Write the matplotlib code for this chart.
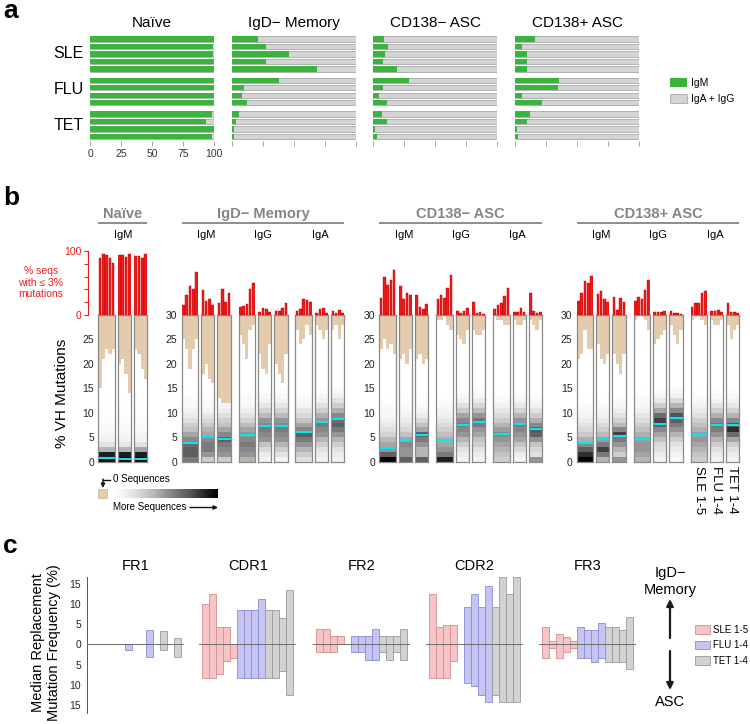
import matplotlib
matplotlib.use('Agg')
import matplotlib.pyplot as plt
import numpy as np
from matplotlib.patches import Patch, Rectangle
from matplotlib.cm import ScalarMappable
from matplotlib.colors import Normalize

plt.rcParams['font.family'] = ['Liberation Sans', 'DejaVu Sans']

# ---------------- data: panel a ----------------
a_subsets = ['Naïve', 'IgD− Memory', 'CD138− ASC', 'CD138+ ASC']
a_cohorts = ['SLE', 'FLU', 'TET']
a_sizes = [5, 4, 4]
igm_naive = [100, 99, 99, 100, 100, 100, 100, 100, 100, 98.4, 93.5, 100, 98.6]
igm_memory = [21, 27.8, 45.8, 27.5, 68.5, 37.7, 9.4, 8.4, 12.1, 5.9, 3.2, 1.9, 1.6]
igm_cd138neg = [8.9, 12.1, 10, 8.3, 19.6, 29, 8.3, 5.1, 11.6, 7.5, 11.6, 1.6, 3.5]
igm_cd138pos = [16.1, 5.6, 9.7, 9.7, 9.7, 35.2, 34.4, 5.6, 22, 12.1, 9.9, 1.6, 2.2]
a_ticks = [0, 25, 50, 75, 100]

# ---------------- data: panel b ----------------
b_panels = ['Naïve', 'IgD− Memory', 'CD138− ASC', 'CD138+ ASC']
b_isotypes = [['IgM'], ['IgM', 'IgG', 'IgA'], ['IgM', 'IgG', 'IgA'], ['IgM', 'IgG', 'IgA']]

# % seqs with <=3% mutations, per subject  [isotype][cohort][subject]
red_naive = [[[89.6, 96, 93.7, 89.6, 82], [93.7, 93.7, 90, 94.8], [92.7, 92.7, 89.6, 95.3]]]
red_memory = [[[15.6, 31, 45, 40.6, 66.7], [39, 22.4, 25.5, 16], [18, 40, 20, 35]],
              [[13, 14.6, 17, 40.6, 50.5], [5.2, 11.5, 10, 4.7], [6.8, 6.8, 10.4, 19]],
              [[6.3, 9.4, 25, 23.4, 20.8], [3.6, 9.4, 10.4, 3.6], [6.8, 3.6, 7.8, 3.6]]]
red_cd138neg = [[[27, 59, 47, 55, 70], [46, 24.5, 34, 31], [32, 13, 8.9, 17]],
                [[25, 31, 26, 42, 62.5], [6.3, 2.6, 6.8, 10.4], [20, 3.6, 4.2, 1.6]],
                [[8.9, 15.6, 18, 30, 41.7], [5.2, 5.2, 10.4, 5.2], [35, 6.8, 2.6, 4.7]]]
red_cd138pos = [[[22.4, 35, 53, 50.5, 61], [33, 37.5, 25, 21], [28.6, 7.8, 26, 21]],
                [[22.4, 27.6, 25, 39, 54.7], [5.2, 5.2, 5.2, 6.3], [6.8, 3.6, 3.6, 1]],
                [[12, 19, 19, 35, 38], [5.7, 6.8, 7.8, 4.2], [18, 4.7, 4.7, 2.6]]]

# mutation level above which there are 0 sequences, per subject
tan_naive = [[[15, 21, 23, 22, 23], [20, 21, 18, 14], [23, 22, 19, 17]]]
tan_memory = [[[25, 23, 19, 23, 25], [18, 20, 17, 16], [13, 12, 12, 12]],
              [[26, 24, 21, 27, 28], [22, 19, 18, 24], [20, 18, 16, 22]],
              [[27, 24, 25, 28, 26], [28, 27, 25, 27], [27, 28, 25, 28]]]
tan_cd138neg = [[[23, 25, 23, 24, 22], [21, 22, 20, 23], [21, 22, 20, 21]],
                [[29, 29, 30, 28, 27], [26, 25, 24, 27], [27, 26, 26, 27]],
                [[30, 29, 29, 28, 28], [29, 28, 28, 29], [29, 28, 27, 29]]]
tan_cd138pos = [[[21, 22, 27, 23, 23], [24, 21, 20, 22], [22, 20, 18, 22]],
                [[29, 30, 30, 29, 27], [24, 25, 26, 27], [28, 26, 24, 27]],
                [[29, 30, 30, 29, 28], [29, 28, 28, 29], [28, 25, 27, 28]]]

# median % VH mutations, per cohort strip
med_naive = [[0.7, 0.5, 0.6]]
med_memory = [[3.9, 5.0, 4.6], [5.5, 7.3, 7.2], [6.0, 8.1, 8.7]]
med_cd138neg = [[2.9, 4.2, 5.5], [4.4, 7.6, 8.2], [5.6, 7.7, 6.7]]
med_cd138pos = [[3.8, 4.6, 5.3], [4.7, 7.8, 9.0], [5.4, 7.5, 7.5]]

# relative sequence density per 1% mutation bin (0-1%, 1-2%, ... 14-15%)
dens_naive = [[[1.0, 0.9, 0.4, 0.2, 0.12, 0.08, 0.05, 0.04, 0.03, 0.02, 0.02, 0.01, 0.01, 0.01, 0.0],
               [1.0, 0.9, 0.4, 0.18, 0.11, 0.07, 0.05, 0.04, 0.03, 0.02, 0.02, 0.01, 0.01, 0.0, 0.0],
               [1.0, 0.9, 0.45, 0.2, 0.12, 0.08, 0.05, 0.04, 0.03, 0.02, 0.02, 0.01, 0.01, 0.01, 0.0]]]
dens_memory = [[[0.6, 0.7, 0.7, 0.65, 0.55, 0.45, 0.35, 0.3, 0.22, 0.15, 0.1, 0.06, 0.04, 0.02, 0.01],
                [0.3, 0.5, 0.6, 0.6, 0.55, 0.45, 0.4, 0.32, 0.25, 0.18, 0.1, 0.06, 0.04, 0.02, 0.01],
                [0.3, 0.5, 0.55, 0.6, 0.7, 0.55, 0.45, 0.35, 0.3, 0.22, 0.14, 0.08, 0.05, 0.03, 0.01]],
               [[0.4, 0.5, 0.55, 0.6, 0.55, 0.5, 0.45, 0.38, 0.28, 0.2, 0.14, 0.08, 0.05, 0.03, 0.01],
                [0.1, 0.15, 0.25, 0.35, 0.5, 0.55, 0.6, 0.55, 0.5, 0.38, 0.28, 0.18, 0.1, 0.05, 0.02],
                [0.1, 0.2, 0.3, 0.4, 0.5, 0.55, 0.6, 0.55, 0.5, 0.38, 0.28, 0.18, 0.1, 0.06, 0.02]],
               [[0.2, 0.3, 0.4, 0.5, 0.6, 0.7, 0.55, 0.45, 0.35, 0.25, 0.18, 0.1, 0.06, 0.03, 0.01],
                [0.1, 0.15, 0.2, 0.3, 0.4, 0.5, 0.55, 0.6, 0.5, 0.42, 0.3, 0.2, 0.12, 0.06, 0.02],
                [0.1, 0.15, 0.2, 0.3, 0.4, 0.5, 0.6, 0.7, 0.65, 0.55, 0.42, 0.3, 0.2, 0.12, 0.05]]]
dens_cd138neg = [[[1.0, 0.7, 0.5, 0.45, 0.38, 0.28, 0.22, 0.16, 0.12, 0.08, 0.06, 0.04, 0.02, 0.01, 0.0],
                  [0.7, 0.5, 0.5, 0.55, 0.45, 0.35, 0.26, 0.2, 0.15, 0.1, 0.06, 0.04, 0.02, 0.01, 0.0],
                  [0.7, 0.4, 0.4, 0.5, 0.6, 0.7, 0.45, 0.35, 0.25, 0.15, 0.1, 0.06, 0.03, 0.02, 0.0]],
                 [[0.9, 0.6, 0.5, 0.45, 0.42, 0.36, 0.3, 0.24, 0.18, 0.13, 0.09, 0.06, 0.03, 0.02, 0.0],
                  [0.1, 0.15, 0.2, 0.3, 0.4, 0.5, 0.55, 0.6, 0.55, 0.45, 0.32, 0.22, 0.12, 0.06, 0.02],
                  [0.1, 0.15, 0.2, 0.3, 0.35, 0.45, 0.5, 0.6, 0.62, 0.5, 0.38, 0.26, 0.16, 0.08, 0.03]],
                 [[0.3, 0.35, 0.4, 0.45, 0.5, 0.55, 0.48, 0.4, 0.32, 0.25, 0.18, 0.12, 0.06, 0.03, 0.01],
                  [0.1, 0.15, 0.25, 0.35, 0.45, 0.5, 0.55, 0.58, 0.5, 0.4, 0.28, 0.18, 0.1, 0.05, 0.02],
                  [0.5, 0.2, 0.25, 0.35, 0.5, 0.7, 0.72, 0.55, 0.42, 0.3, 0.2, 0.12, 0.06, 0.03, 0.01]]]
dens_cd138pos = [[[1.0, 0.85, 0.7, 0.55, 0.42, 0.32, 0.25, 0.2, 0.14, 0.1, 0.06, 0.04, 0.02, 0.01, 0.0],
                  [0.4, 0.6, 0.8, 0.6, 0.48, 0.38, 0.3, 0.24, 0.18, 0.12, 0.08, 0.05, 0.03, 0.01, 0.0],
                  [0.5, 0.3, 0.4, 0.5, 0.6, 0.8, 0.55, 0.38, 0.28, 0.2, 0.13, 0.08, 0.04, 0.02, 0.0]],
                 [[0.4, 0.45, 0.5, 0.5, 0.48, 0.42, 0.36, 0.3, 0.24, 0.18, 0.12, 0.08, 0.05, 0.02, 0.01],
                  [0.1, 0.15, 0.2, 0.25, 0.35, 0.45, 0.55, 0.7, 0.8, 0.65, 0.45, 0.3, 0.16, 0.08, 0.03],
                  [0.05, 0.1, 0.15, 0.2, 0.3, 0.4, 0.5, 0.6, 0.7, 0.75, 0.55, 0.4, 0.25, 0.12, 0.05]],
                 [[0.3, 0.35, 0.4, 0.45, 0.5, 0.48, 0.42, 0.36, 0.3, 0.22, 0.16, 0.1, 0.06, 0.03, 0.01],
                  [0.1, 0.15, 0.2, 0.3, 0.4, 0.5, 0.6, 0.62, 0.55, 0.42, 0.3, 0.2, 0.1, 0.05, 0.02],
                  [0.1, 0.15, 0.2, 0.3, 0.45, 0.65, 0.85, 0.75, 0.55, 0.4, 0.28, 0.18, 0.1, 0.05, 0.02]]]

# ---------------- data: panel c ----------------
c_regions = ['FR1', 'CDR1', 'FR2', 'CDR2', 'FR3']
c_legend = ['SLE 1-5', 'FLU 1-4', 'TET 1-4']
# median replacement mutation frequency: IgD- memory (up) and ASC (down)
fr1_mem = [0, 0, 0, 0, 0, 0, 0, 0, 3.5, 0, 3.3, 0, 1.5]
fr1_asc = [0, 0, 0, 0, 0, 1.5, 0, 0, 3.2, 0, 1.5, 0, 3.2]
cdr1_mem = [9.9, 12.4, 4.2, 4.2, 0, 8.4, 8.4, 8.4, 11.1, 8.4, 8.4, 6.6, 13.4]
cdr1_asc = [8.4, 8.4, 7.4, 4.2, 3.4, 8.4, 8.4, 8.4, 8.4, 8.4, 8.4, 6.6, 12.6]
fr2_mem = [3.9, 3.9, 2.0, 2.0, 0, 2.0, 2.0, 2.0, 3.9, 2.0, 2.0, 2.0, 3.9]
fr2_asc = [2.0, 2.0, 2.0, 0, 0, 2.0, 2.0, 3.9, 3.9, 2.0, 3.9, 2.0, 3.9]
cdr2_mem = [12.4, 4.2, 4.7, 4.7, 0, 9.3, 12.4, 9.3, 14.3, 9.3, 16.5, 12.4, 16.5]
cdr2_asc = [8.4, 8.4, 8.4, 4.2, 0, 9.6, 10.2, 12.5, 14.3, 12.5, 14.3, 14.3, 14.3]
fr3_mem = [4.3, 0.7, 2.5, 1.7, 0.9, 4.3, 3.5, 3.5, 5.2, 4.3, 4.3, 3.5, 6.8]
fr3_asc = [3.4, 1.0, 3.3, 1.8, 1.0, 3.4, 3.4, 4.4, 3.4, 4.4, 4.4, 4.4, 6.1]

# ---------------- styles ----------------
GREEN = '#3bb33f'
LGRAY = '#d4d4d4'
LGRAY_E = '#a8a8a8'
TAN = '#e4cbad'
CYAN = '#00e8f0'
RED = '#ee1c1c'
HDR = '#858585'
C_FILL = ['#f6c4c5', '#c5c5f4', '#d2d2d2']
C_EDGE = ['#d48e90', '#8c8cd0', '#9a9a9a']

W, H = 750, 724
fig = plt.figure(figsize=(W / 100, H / 100), dpi=100)


def box(x0, y0, x1, y1):
    return [x0 / W, 1 - y1 / H, (x1 - x0) / W, (y1 - y0) / H]


ov = fig.add_axes([0, 0, 1, 1])
ov.set_xlim(0, W)
ov.set_ylim(H, 0)
ov.axis('off')
ov.set_zorder(20)

# panel letters
for s, y in [('a', 18), ('b', 205), ('c', 553)]:
    ov.text(3, y, s, fontsize=19, fontweight='bold', va='baseline', ha='left')

# ================= panel a =================
rowpos = []
p = 0.0
for g, n in enumerate(a_sizes):
    for k in range(n):
        rowpos.append(p)
        p += 1
    p += 0.5
rowpos = np.array(rowpos)

a_x = [90, 232, 373, 515]
a_vals = [igm_naive, igm_memory, igm_cd138neg, igm_cd138pos]
for i, (x0, vals, title) in enumerate(zip(a_x, a_vals, a_subsets)):
    ax = fig.add_axes(box(x0, 34.5, x0 + 124, 141))
    ax.barh(rowpos, [100] * len(vals), height=0.7, color=LGRAY, edgecolor=LGRAY_E, linewidth=0.6)
    ax.barh(rowpos, vals, height=0.7, color=GREEN, edgecolor='none')
    ax.set_xlim(0, 100)
    ax.set_ylim(rowpos[-1] + 0.6, -0.6)
    for sp in ax.spines.values():
        sp.set_visible(False)
    ax.set_yticks([])
    ax.set_xticks(a_ticks)
    ax.tick_params(axis='x', length=3.5, width=0.6, color='#9a9a9a', labelsize=7.5,
                   labelcolor='#333333', pad=2)
    if i > 0:
        ax.set_xticklabels([])
    ax.text(50, -1.2, title, fontsize=11, ha='center', va='bottom', transform=ax.transData)

for lab, y in zip(a_cohorts, [54, 89, 125]):
    ov.text(84, y, lab, fontsize=11.5, ha='right', va='center')

fig.legend(handles=[Patch(facecolor=GREEN, edgecolor='none'),
                    Patch(facecolor=LGRAY, edgecolor=LGRAY_E, linewidth=0.6)],
           labels=['IgM', 'IgA + IgG'], loc='upper left', bbox_to_anchor=(666 / W, 1 - 74 / H),
           frameon=False, fontsize=7.5, handlelength=1.6, handleheight=1.0,
           labelspacing=0.55, handletextpad=0.4, borderaxespad=0)

# ================= panel b =================
cmap = plt.get_cmap('Greys').copy()
cmap.set_bad(TAN)
b_start = [98.3, 181.7, 379.3, 576.7]
col_w, gap_in, gap_iso = 3.3, 3.0, 8.0
HEAT_T, HEAT_B = 315, 461.7
RED_T = 251
b_red = [red_naive, red_memory, red_cd138neg, red_cd138pos]
b_tan = [tan_naive, tan_memory, tan_cd138neg, tan_cd138pos]
b_med = [med_naive, med_memory, med_cd138neg, med_cd138pos]
b_dens = [dens_naive, dens_memory, dens_cd138neg, dens_cd138pos]

for pi in range(4):
    x = b_start[pi]
    first = True
    iso_centers = []
    for ii, iso in enumerate(b_isotypes[pi]):
        iso_x0 = x
        for ci in range(3):
            reds = b_red[pi][ii][ci]
            n = len(reds)
            w = n * col_w
            dens = b_dens[pi][ii][ci]
            grid = np.zeros((30, n))
            mask = np.zeros((30, n), dtype=bool)
            for j in range(n):
                grid[:len(dens), j] = dens
                mask[int(b_tan[pi][ii][ci][j]):, j] = True
            hax = fig.add_axes(box(x, HEAT_T, x + w, HEAT_B))
            hax.pcolormesh(np.arange(n + 1), np.arange(31), np.ma.masked_array(grid, mask),
                           cmap=cmap, vmin=0, vmax=1)
            hax.axhline(b_med[pi][ii][ci], color=CYAN, lw=1.5)
            hax.set_xlim(0, n)
            hax.set_ylim(0, 30)
            hax.set_xticks([])
            for sp in hax.spines.values():
                sp.set_color('#8a8a8a')
                sp.set_linewidth(0.9)
            if first:
                yt = list(range(0, 26, 5)) if pi == 0 else list(range(0, 31, 5))
                hax.set_yticks(yt)
                hax.tick_params(axis='y', length=0, pad=3, labelsize=7.5, labelcolor='#222')
            else:
                hax.set_yticks([])

            rax = fig.add_axes(box(x, RED_T, x + w, HEAT_T))
            rax.bar(np.arange(n) + 0.5, reds, width=0.78, color=RED, edgecolor='#b30000',
                    linewidth=0.3)
            rax.set_xlim(0, n)
            rax.set_ylim(0, 100)
            rax.patch.set_alpha(0)
            rax.set_xticks([])
            for nm, sp in rax.spines.items():
                sp.set_visible(False)
            if first and pi == 0:
                sp = rax.spines['left']
                sp.set_visible(True)
                sp.set_position(('outward', 7.5))
                sp.set_color(RED)
                sp.set_linewidth(0.8)
                rax.set_yticks([0, 20, 40, 60, 80, 100])
                rax.set_yticklabels(['0', '', '', '', '', '100'])
                rax.tick_params(axis='y', length=3, width=0.8, color=RED, labelcolor=RED,
                                labelsize=7.5, pad=1.5)
            else:
                rax.set_yticks([])
            first = False
            x += w + gap_in
        x -= gap_in
        iso_centers.append((iso_x0 + x) / 2)
        x += gap_iso
    x -= gap_iso
    # headers
    ov.plot([b_start[pi], x], [222.5, 222.5], color=HDR, lw=1.3, solid_capstyle='butt')
    ov.text((b_start[pi] + x) / 2, 214, b_panels[pi], fontsize=10.5, fontweight='bold',
            color=HDR, ha='center', va='center')
    for iso, cx in zip(b_isotypes[pi], iso_centers):
        ov.text(cx, 235, iso, fontsize=8, ha='center', va='center')

ov.text(41, 282.5, '% seqs\nwith ≤ 3%\nmutations', fontsize=7.5, color=RED, ha='center',
        va='center', linespacing=1.15)
ov.text(62, 393, '% VH Mutations', fontsize=11, rotation=90, ha='center', va='center')

# cohort labels under last panel
lab_x = [698.5, 716, 732]
for lab, lx in zip(c_legend, lab_x):
    ov.text(lx, 466, lab, fontsize=9.5, rotation=270, ha='center', va='top')

# density legend
ov.add_patch(Rectangle((98, 489), 9, 9, facecolor=TAN, edgecolor='#cdb393', lw=0.5))
cax = fig.add_axes(box(112, 489, 218, 498))
cb = fig.colorbar(ScalarMappable(norm=Normalize(0, 1), cmap='Greys'), cax=cax,
                  orientation='horizontal')
cb.set_ticks([])
cb.outline.set_visible(False)
ov.text(113, 479.5, '0 Sequences', fontsize=7, ha='left', va='center')
ov.plot([110, 103], [479.5, 479.5], color='#111', lw=1.0)
ov.annotate('', xy=(103, 488), xytext=(103, 479),
            arrowprops=dict(arrowstyle='-|>', color='#111', lw=1.0, mutation_scale=6,
                            shrinkA=0, shrinkB=0))
ov.text(113, 507.5, 'More Sequences', fontsize=7, ha='left', va='center')
ov.annotate('', xy=(218, 507.5), xytext=(190, 507.5),
            arrowprops=dict(arrowstyle='-|>', color='#111', lw=1.0, mutation_scale=6,
                            shrinkA=0, shrinkB=0))

# ================= panel c =================
c_mem = [fr1_mem, cdr1_mem, fr2_mem, cdr2_mem, fr3_mem]
c_asc = [fr1_asc, cdr1_asc, fr2_asc, cdr2_asc, fr3_asc]
coh_idx = [0] * 5 + [1] * 4 + [2] * 4
c_left = [86.7, 199.3, 312.7, 426.0, 539.3]
for ri in range(5):
    ax = fig.add_axes(box(c_left[ri], 576.7, c_left[ri] + 97, 713))
    up = np.array(c_mem[ri])
    dn = np.array(c_asc[ri])
    xs = np.arange(len(up))
    ax.bar(xs, up + dn, bottom=-dn, width=1.0,
           color=[C_FILL[k] for k in coh_idx], edgecolor=[C_EDGE[k] for k in coh_idx],
           linewidth=0.6)
    ax.axhline(0, color='#6d6d6d', lw=0.7, zorder=3)
    ax.set_xlim(-0.5 - 0.43, 12.5 + 0.43)
    ax.set_ylim(-16.96, 16.69)
    ax.patch.set_alpha(0)
    ax.set_xticks([])
    for nm, sp in ax.spines.items():
        sp.set_visible(False)
    if ri == 0:
        ax.spines['left'].set_visible(True)
        ax.spines['left'].set_color('#555')
        ax.spines['left'].set_linewidth(0.7)
        tv = [-15, -10, -5, 0, 5, 10, 15]
        ax.set_yticks(tv)
        ax.set_yticklabels([str(abs(t)) for t in tv])
        ax.tick_params(axis='y', length=0, pad=4, labelsize=7.5, labelcolor='#222')
    else:
        ax.set_yticks([])
    ov.text(c_left[ri] + 48.5, 566, c_regions[ri], fontsize=10.5, ha='center', va='center')

ov.text(46, 643, 'Median Replacement\nMutation Frequency (%)', fontsize=10.5, rotation=90,
        ha='center', va='center', linespacing=1.2)

fig.legend(handles=[Patch(facecolor=C_FILL[k], edgecolor=C_EDGE[k], linewidth=0.6) for k in range(3)],
           labels=c_legend, loc='upper left', bbox_to_anchor=(691 / W, 1 - 621 / H),
           frameon=False, fontsize=7, handlelength=1.6, handleheight=1.0,
           labelspacing=0.55, handletextpad=0.3, borderaxespad=0)

ov.text(670, 573, 'IgD−', fontsize=10.5, ha='center', va='center')
ov.text(670, 590, 'Memory', fontsize=10.5, ha='center', va='center')
ov.text(670, 702, 'ASC', fontsize=10.5, ha='center', va='center')
ov.annotate('', xy=(670, 599), xytext=(670, 638),
            arrowprops=dict(arrowstyle='-|>', color='#1a1a1a', lw=1.6, mutation_scale=10,
                            shrinkA=0, shrinkB=0))
ov.annotate('', xy=(670, 690), xytext=(670, 651),
            arrowprops=dict(arrowstyle='-|>', color='#1a1a1a', lw=1.6, mutation_scale=10,
                            shrinkA=0, shrinkB=0))

fig.savefig('out.png', dpi=100)
